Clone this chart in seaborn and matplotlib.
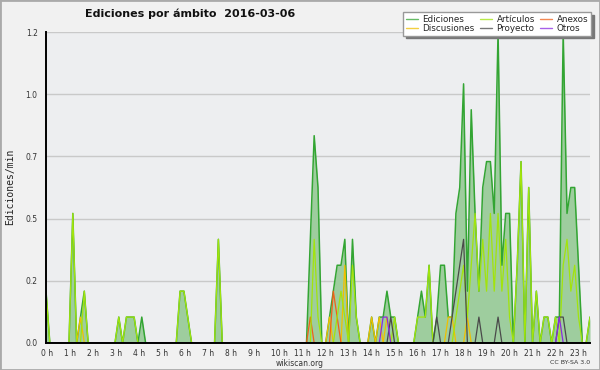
# ediciones_por_ambito.py
# Wikiscan-style chart: edits per minute by namespace, 2016-03-06

import numpy as np
import pandas as pd
import matplotlib
matplotlib.use("Agg")
import matplotlib.pyplot as plt
import matplotlib.transforms as mtransforms
from matplotlib.lines import Line2D
from matplotlib.patches import Rectangle
from matplotlib.ticker import MultipleLocator
import seaborn as sns

# ------------------------------
# Data: edits in each 10-minute slot (00:00 ... 23:40)
# ------------------------------
ediciones = [
    2, 0, 0, 0, 0, 0, 0, 5, 0, 1, 2, 0,
    0, 0, 0, 0, 0, 0, 0, 1, 0, 1, 1, 1,
    0, 1, 0, 0, 0, 0, 0, 0, 0, 0, 0, 2,
    2, 1, 0, 0, 0, 0, 0, 0, 0, 4, 0, 0,
    0, 0, 0, 0, 0, 0, 0, 0, 0, 0, 0, 0,
    0, 0, 0, 0, 0, 0, 0, 0, 0, 4, 8, 6,
    0, 0, 1, 2, 3, 3, 4, 0, 4, 1, 0, 0,
    0, 1, 0, 1, 1, 2, 1, 1, 0, 0, 0, 0,
    0, 1, 2, 1, 3, 0, 1, 3, 3, 1, 1, 5,
    6, 10, 2, 9, 5, 2, 6, 7, 7, 5, 12, 3,
    5, 5, 0, 3, 7, 0, 6, 0, 2, 0, 1, 1,
    0, 1, 1, 12, 5, 6, 6, 3, 0, 0, 1,
]
articulos = [
    2, 0, 0, 0, 0, 0, 0, 5, 0, 0, 2, 0,
    0, 0, 0, 0, 0, 0, 0, 1, 0, 1, 1, 1,
    0, 0, 0, 0, 0, 0, 0, 0, 0, 0, 0, 2,
    2, 1, 0, 0, 0, 0, 0, 0, 0, 4, 0, 0,
    0, 0, 0, 0, 0, 0, 0, 0, 0, 0, 0, 0,
    0, 0, 0, 0, 0, 0, 0, 0, 0, 0, 4, 1,
    0, 0, 0, 0, 1, 2, 1, 0, 3, 1, 0, 0,
    0, 0, 0, 0, 0, 0, 0, 1, 0, 0, 0, 0,
    0, 1, 1, 1, 3, 0, 0, 0, 0, 0, 0, 1,
    2, 3, 1, 3, 5, 2, 4, 2, 5, 2, 5, 2,
    4, 1, 0, 3, 7, 0, 6, 0, 2, 0, 1, 1,
    0, 1, 0, 3, 4, 2, 3, 1, 0, 0, 1,
]
anexos = [0] * 143
discusiones = [0] * 143
proyecto = [0] * 143
otros = [0] * 143
for i, v in {69: 1, 75: 2, 76: 1}.items():
    anexos[i] = v
for i, v in {9: 1, 74: 1, 78: 3, 85: 1, 87: 1, 89: 1, 105: 1, 106: 1, 110: 1}.items():
    discusiones[i] = v
for i, v in {90: 1, 102: 1, 106: 1, 107: 2, 108: 3, 109: 4, 113: 1, 118: 1, 134: 1, 135: 1}.items():
    proyecto[i] = v
for i, v in {88: 1, 89: 1, 134: 1}.items():
    otros[i] = v

hour_labels = [f"{h} h" for h in range(24)]
y_ticks = [0, 0.25, 0.5, 0.75, 1.0, 1.25]
y_labels = ["0.0", "0.2", "0.5", "0.7", "1.0", "1.2"]

per_edit = 1.25 / 12  # edits/min for one edit in a slot

df = pd.DataFrame({
    "slot": np.arange(len(ediciones)),
    "Ediciones": ediciones,
    "Artículos": articulos,
    "Anexos": anexos,
    "Discusiones": discusiones,
    "Proyecto": proyecto,
    "Otros": otros,
})
series = ["Ediciones", "Artículos", "Anexos", "Discusiones", "Proyecto", "Otros"]
df[series] = df[series] * per_edit

colors = {
    "Ediciones": "#33a533",
    "Artículos": "#a2e40c",
    "Anexos": "#f0601a",
    "Discusiones": "#f0c000",
    "Proyecto": "#4a4a4a",
    "Otros": "#8a2be2",
}
fill_color = "#9ecd9e"

# ------------------------------
# Figure
# ------------------------------
sns.set_style("white")
plt.rcParams["font.family"] = ["DejaVu Sans"]

fig = plt.figure(figsize=(6, 3.7), dpi=100, facecolor="#f1f1f1")
ax = fig.add_axes([46 / 600, 27 / 370, 544 / 600, 311 / 370])
ax.set_facecolor("#edeef0")

ax.fill_between(df["slot"], 0, df["Ediciones"], color=fill_color, lw=0, zorder=1)
sns.lineplot(data=df, x="slot", y="Ediciones", color=colors["Ediciones"], lw=1.1, ax=ax, zorder=2)
for name in ["Discusiones", "Anexos", "Artículos", "Proyecto", "Otros"]:
    sns.lineplot(data=df, x="slot", y=name, color=colors[name], lw=0.9, ax=ax, zorder=3)

ax.set_xlim(0, len(df) - 1)
ax.set_ylim(0, 1.25)
ax.set_xlabel("")
ax.set_ylabel("")

# grid and spines (spines on top so the zero parts of the lines hide under them)
ax.yaxis.grid(True, color="#c9c9c9", lw=1)
ax.set_axisbelow(True)
for s in ["top", "right"]:
    ax.spines[s].set_visible(False)
for s in ["left", "bottom"]:
    ax.spines[s].set_color("black")
    ax.spines[s].set_linewidth(1.4)
    ax.spines[s].set_zorder(6)

# ticks
ax.set_yticks(y_ticks)
ax.set_yticklabels(y_labels)
ax.yaxis.set_minor_locator(MultipleLocator(0.0625))
ax.set_xticks(np.arange(0, 24 * 6, 6))
ax.set_xticklabels(hour_labels)
ax.xaxis.set_minor_locator(MultipleLocator(1))
ax.tick_params(axis="both", which="both", direction="out", color="black", width=1,
               labelsize=5.5, labelcolor="#333333")
ax.tick_params(axis="x", which="both", length=4, pad=0)
ax.tick_params(axis="y", which="major", length=5, pad=1)
ax.tick_params(axis="y", which="minor", length=3)
shift = mtransforms.ScaledTranslation(-5 / 100, 0, fig.dpi_scale_trans)
for lab in ax.get_xticklabels():
    lab.set_horizontalalignment("left")
    lab.set_transform(lab.get_transform() + shift)

# texts
fig.text(85 / 600, 1 - 14 / 370, "Ediciones por ámbito  2016-03-06",
         fontsize=8, fontweight="bold", ha="left", va="center", color="#111111")
fig.text(10 / 600, 1 - 187 / 370, "Ediciones/min", rotation=90,
         fontsize=7, family="DejaVu Sans Mono", ha="center", va="center", color="#222222")
fig.text(300 / 600, 1 - 363 / 370, "wikiscan.org", fontsize=5.5,
         ha="center", va="center", color="#333333")
fig.text(590 / 600, 1 - 363 / 370, "CC BY-SA 3.0", fontsize=4.5,
         ha="right", va="center", color="#333333")

# legend (column-major order gives rows Ediciones/Artículos/Anexos, Discusiones/Proyecto/Otros)
order = ["Ediciones", "Discusiones", "Artículos", "Proyecto", "Anexos", "Otros"]
handles = [Line2D([], [], color=colors[n], lw=1, alpha=0.75) for n in order]
leg = ax.legend(handles, order, ncol=3, loc="upper right",
                bbox_to_anchor=(591 / 600, 1 - 12 / 370), bbox_transform=fig.transFigure,
                fontsize=6.3, frameon=True, fancybox=False, framealpha=1,
                edgecolor="#999999", facecolor="white",
                shadow={"color": "#777777", "alpha": 1},
                handlelength=1.4, handletextpad=0.5, columnspacing=0.6,
                labelspacing=0.05, borderpad=0.3, borderaxespad=0)
leg.set_zorder(10)

# outer border
fig.patches.append(Rectangle((0, 0), 1, 1, transform=fig.transFigure, fill=False,
                             ec="#aaaaaa", lw=2))

plt.savefig("out.png", dpi=100)
